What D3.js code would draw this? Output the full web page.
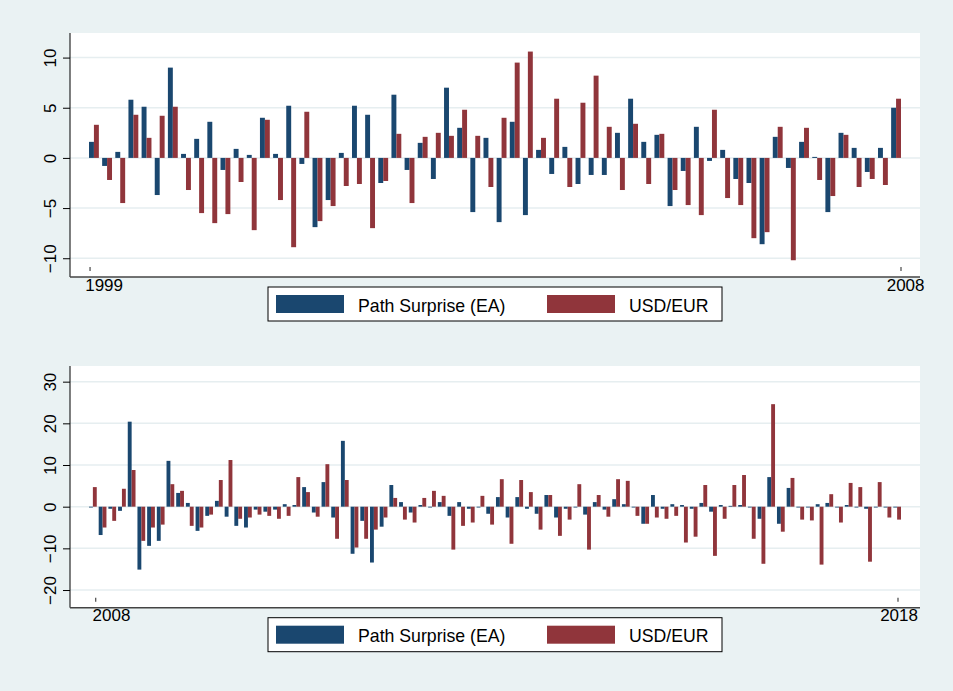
<!DOCTYPE html>
<html>
<head>
<meta charset="utf-8">
<script src="https://cdn.jsdelivr.net/npm/d3@7"></script>
<style>
  html, body { margin: 0; padding: 0; background: #eaf2f3; }
  svg { display: block; }
  text { font-family: "Liberation Sans", Arial, Helvetica, sans-serif; fill: #000; }
</style>
</head>
<body>
<script>
// ---------- DATA ----------
const seriesNames = ["Path Surprise (EA)", "USD/EUR"];
const seriesColors = ["#1a476f", "#90353b"];

// Panel 1: 1999 - 2008 (62 events)
const topPath = [1.6, -0.8, 0.6, 5.8, 5.1, -3.7, 9.0, 0.4, 1.9, 3.6, -1.2, 0.9, 0.3, 4.0, 0.4,
  5.2, -0.6, -6.9, -4.2, 0.5, 5.2, 4.3, -2.5, 6.3, -1.2, 1.5, -2.1, 7.0, 3.0, -5.4, 2.0, -6.4,
  3.6, -5.7, 0.8, -1.6, 1.1, -2.6, -1.7, -1.7, 2.5, 5.9, 1.6, 2.3, -4.8, -1.3, 3.1, -0.3, 0.8,
  -2.1, -2.5, -8.6, 2.1, -1.0, 1.6, 0.1, -5.4, 2.5, 1.0, -1.4, 1.0, 5.0];
const topFx = [3.3, -2.2, -4.5, 4.3, 2.0, 4.2, 5.1, -3.2, -5.5, -6.5, -5.6, -2.4, -7.2, 3.8, -4.2,
  -8.9, 4.6, -6.3, -4.8, -2.8, -2.6, -7.0, -2.3, 2.4, -4.5, 2.1, 2.5, 2.2, 4.8, 2.2, -2.9, 4.0,
  9.5, 10.6, 2.0, 5.9, -2.9, 5.5, 8.2, 3.1, -3.2, 3.4, -2.6, 2.4, -3.2, -4.7, -5.7, 4.8, -4.0,
  -4.7, -8.0, -7.4, 3.1, -10.2, 3.0, -2.2, -3.8, 2.3, -2.9, -2.1, -2.7, 5.9];
const topYTicks = [-10, -5, 0, 5, 10];
const topXTickLabels = ["1999", "2008"];
const topXTickAt = [0.08, 61.75];     // event-index position of tick marks
const topXLabelAt = [1.15, 62.1];     // event-index position of the labels

// Panel 2: 2008 - 2018 (84 events)
const botPath = [-0.2, -6.8, -0.5, -1.0, 20.4, -15.1, -9.4, -8.2, 11.0, 3.3, 0.9, -5.8, -2.2, 1.4,
  -2.4, -4.6, -5.0, -0.7, -1.2, -0.7, 0.6, 0.4, 4.7, -1.4, 5.9, -2.6, 15.8, -11.3, -3.4, -13.4,
  -4.8, 5.2, 1.1, -1.4, 0.4, -0.2, 1.1, -2.2, 1.1, -0.5, -0.2, -1.7, 2.3, -2.6, 2.3, -0.5, -1.7,
  2.8, -2.6, -0.5, -0.2, -1.9, 1.1, -0.7, 1.8, 0.6, -0.2, -4.1, 2.8, -0.5, 0.6, 0.4, -0.5, 0.9,
  -1.2, 0.4, 0.2, 0.4, -0.2, -2.9, 7.1, -4.1, 4.5, -0.2, -0.2, 0.6, 0.9, -0.2, 0.4, -0.2, -0.5,
  -0.2, -0.2, -0.2];
const botFx = [4.7, -5.0, -3.4, 4.3, 8.8, -8.2, -5.0, -4.3, 5.4, 3.8, -4.6, -5.0, -1.9, 6.4, 11.2,
  -2.9, -2.6, -1.9, -2.2, -2.9, -2.2, 7.1, 3.5, -2.4, 10.2, -7.7, 6.4, -9.8, -7.7, -5.5, -2.6, 2.1,
  -3.1, -3.8, 2.1, 3.8, 2.6, -10.3, -4.6, -3.8, 2.6, -4.3, 6.6, -8.9, 6.4, 3.5, -5.5, 2.8, -7.0,
  -3.1, 5.4, -10.3, 2.8, -2.4, 6.6, 6.2, -2.2, -4.1, -2.6, -2.9, -2.2, -8.6, -7.2, 5.2, -11.8,
  -2.9, 5.2, 7.6, -7.7, -13.7, 24.6, -6.0, 6.9, -3.1, -3.3, -13.9, 3.0, -3.8, 5.7, 4.7, -13.2,
  5.9, -2.6, -3.1];
const botYTicks = [-20, -10, 0, 10, 20, 30];
const botXTickLabels = ["2008", "2018"];
const botXTickAt = [0.69, 83.49];
const botXLabelAt = [2.32, 83.6];

// ---------- DRAW ----------
const W = 953, H = 691;
const svg = d3.select("body").append("svg").attr("width", W).attr("height", H);
svg.append("rect").attr("width", W).attr("height", H).attr("fill", "#eaf2f3");

function fmt(v) { return v < 0 ? "\u2212" + Math.abs(v) : String(v); }

function drawPanel(cfg) {
  const g = svg.append("g");
  const n = cfg.a.length;
  const cats = d3.range(n);
  // plot region
  g.append("rect").attr("x", cfg.left).attr("y", cfg.top)
    .attr("width", cfg.right - cfg.left).attr("height", cfg.bottom - cfg.top).attr("fill", "#fff");

  const y = d3.scaleLinear().domain(cfg.yDomain).range([cfg.bottom, cfg.top]);
  const xb = d3.scaleBand().domain(cats).range([cfg.barL, cfg.barR])
    .paddingInner(cfg.pad).paddingOuter(0);
  const xi = d3.scaleLinear().domain([0, n - 1]).range([xb(0), xb(n - 1)]);
  const bw = xb.bandwidth() / 2;

  // grid
  g.selectAll(".grid").data(cfg.yTicks).join("line")
    .attr("x1", cfg.left).attr("x2", cfg.right)
    .attr("y1", d => y(d)).attr("y2", d => y(d))
    .attr("stroke", "#e6eef0").attr("stroke-width", 1.5);

  // bars
  [cfg.a, cfg.b].forEach((vals, s) => {
    g.append("g").selectAll("rect").data(vals).join("rect")
      .attr("x", (d, i) => xb(i) + s * bw)
      .attr("width", bw)
      .attr("y", d => y(Math.max(0, d)))
      .attr("height", d => Math.abs(y(d) - y(0)))
      .attr("fill", seriesColors[s]);
  });

  // y axis
  const ya = d3.axisLeft(y).tickValues(cfg.yTicks).tickSize(7).tickFormat(fmt);
  const yg = g.append("g").attr("transform", `translate(${cfg.left},0)`).call(ya);
  yg.select(".domain").remove();
  yg.selectAll(".tick line").attr("stroke", "#000").attr("stroke-width", 1);
  yg.selectAll(".tick text").remove();
  yg.selectAll(".tick").append("text")
    .attr("transform", "rotate(-90)")
    .attr("x", 0).attr("y", -14)
    .attr("text-anchor", "middle")
    .attr("font-size", 17)
    .style("fill", "#000")
    .text(d => fmt(d));
  g.append("line").attr("x1", cfg.left).attr("x2", cfg.left)
    .attr("y1", cfg.top).attr("y2", cfg.bottom).attr("stroke", "#000").attr("stroke-width", 1);

  // x axis line
  g.append("line").attr("x1", cfg.left).attr("x2", cfg.right)
    .attr("y1", cfg.bottom).attr("y2", cfg.bottom).attr("stroke", "#444").attr("stroke-width", 1.5);
  // x tick marks
  g.selectAll(".xt").data(cfg.xTickAt).join("line")
    .attr("x1", d => xi(d)).attr("x2", d => xi(d))
    .attr("y1", cfg.bottom - 10).attr("y2", cfg.bottom - 6)
    .attr("stroke", "#555").attr("stroke-width", 1.3);
  g.selectAll(".xl").data(cfg.xLabels).join("text")
    .attr("x", (d, i) => xi(cfg.xLabelAt[i]))
    .attr("y", cfg.bottom + 13.5)
    .attr("text-anchor", "middle").attr("font-size", 17)
    .text(d => d);

  // legend
  const L = g.append("g").attr("transform", `translate(268,${cfg.legendTop})`);
  L.append("rect").attr("width", 454).attr("height", 34).attr("fill", "#fff")
    .attr("stroke", "#000").attr("stroke-width", 1);
  const items = [{x: 8, tx: 90}, {x: 279, tx: 361}];
  items.forEach((it, s) => {
    L.append("rect").attr("x", it.x).attr("y", 8).attr("width", 68).attr("height", 18)
      .attr("fill", seriesColors[s]);
    L.append("text").attr("x", it.tx).attr("y", 24.5).attr("font-size", 17.7).text(seriesNames[s]);
  });
}

drawPanel({
  a: topPath, b: topFx, left: 70, right: 920, top: 33, bottom: 277,
  barL: 89, barR: 901, pad: 0.25, yDomain: [-11.87, 12.45], yTicks: topYTicks,
  xTickAt: topXTickAt, xLabels: topXTickLabels, xLabelAt: topXLabelAt, legendTop: 287
});
drawPanel({
  a: botPath, b: botFx, left: 70, right: 920, top: 366, bottom: 607.7,
  barL: 89, barR: 901, pad: 0.2, yDomain: [-24.24, 33.76], yTicks: botYTicks,
  xTickAt: botXTickAt, xLabels: botXTickLabels, xLabelAt: botXLabelAt, legendTop: 617.7
});
</script>
</body>
</html>
